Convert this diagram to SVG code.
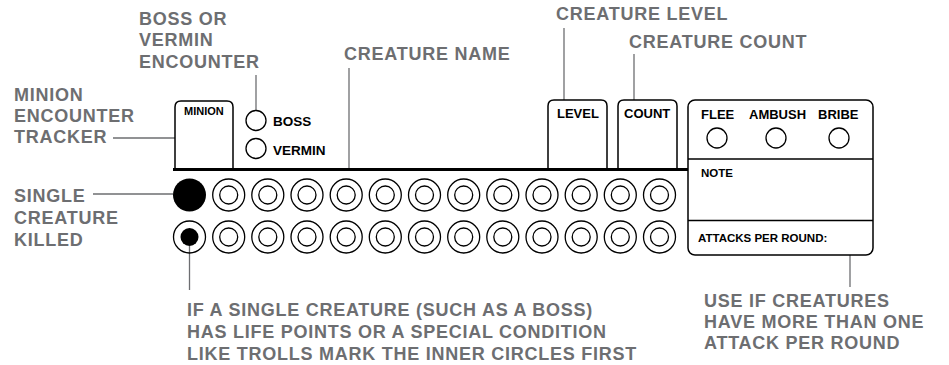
<svg xmlns="http://www.w3.org/2000/svg" width="949" height="365" viewBox="0 0 949 365">
<defs>
<style>
.lbl{font-family:"Liberation Sans",Arial,sans-serif;font-weight:bold;font-size:18px;fill:#6d6e71;letter-spacing:0.75px}
.t{font-family:"Liberation Sans",Arial,sans-serif;font-weight:bold;fill:#000}
.lead{stroke:#6d6e71;stroke-width:1.3;fill:none}
.box{stroke:#000;stroke-width:1.5;fill:#fff}
.ring{stroke:#000;stroke-width:1.3;fill:none}
</style>
<g id="cell">
<circle r="16" class="ring"/>
<circle r="9" class="ring"/>
</g>
</defs>
<rect width="949" height="365" fill="#fff"/>

<g id="connectors">
<line class="lead" x1="113" y1="138" x2="175" y2="138"/>
<line class="lead" x1="256" y1="75" x2="256" y2="110"/>
<line class="lead" x1="349" y1="68" x2="349" y2="168"/>
<line class="lead" x1="564" y1="28" x2="564" y2="100"/>
<line class="lead" x1="634" y1="54" x2="634" y2="100"/>
<line class="lead" x1="93" y1="194" x2="173" y2="194"/>
<line class="lead" x1="189.5" y1="246" x2="189.5" y2="290"/>
<line class="lead" x1="850" y1="238" x2="850" y2="287"/>
</g>

<g id="labels">
<text class="lbl" x="14" y="101">MINION</text>
<text class="lbl" x="14" y="122">ENCOUNTER</text>
<text class="lbl" x="14" y="143">TRACKER</text>
<text class="lbl" x="139" y="25">BOSS OR</text>
<text class="lbl" x="139" y="46">VERMIN</text>
<text class="lbl" x="139" y="68">ENCOUNTER</text>
<text class="lbl" x="344" y="60">CREATURE NAME</text>
<text class="lbl" x="556" y="20">CREATURE LEVEL</text>
<text class="lbl" x="629" y="48">CREATURE COUNT</text>
<text class="lbl" x="14" y="202">SINGLE</text>
<text class="lbl" x="14" y="224">CREATURE</text>
<text class="lbl" x="14" y="246">KILLED</text>
<text class="lbl" x="187" y="316">IF A SINGLE CREATURE (SUCH AS A BOSS)</text>
<text class="lbl" x="187" y="338">HAS LIFE POINTS OR A SPECIAL CONDITION</text>
<text class="lbl" x="187" y="360">LIKE TROLLS MARK THE INNER CIRCLES FIRST</text>
<text class="lbl" x="704" y="307">USE IF CREATURES</text>
<text class="lbl" x="704" y="328">HAVE MORE THAN ONE</text>
<text class="lbl" x="704" y="349">ATTACK PER ROUND</text>
</g>

<g id="minion-box">
<path class="box" d="M175,169 V107 Q175,101 181,101 H227 Q233,101 233,107 V169"/>
<text class="t" x="184" y="115" font-size="11">MINION</text>
</g>

<g id="boss-vermin">
<circle class="ring" cx="256" cy="120.5" r="10"/>
<text class="t" x="273" y="126" font-size="13.5">BOSS</text>
<circle class="ring" cx="256" cy="148.5" r="10"/>
<text class="t" x="273" y="155" font-size="13.5">VERMIN</text>
</g>

<g id="level-box">
<path class="box" d="M548,169 V106 Q548,100 554,100 H601 Q607,100 607,106 V169"/>
<text class="t" x="557" y="118" font-size="13">LEVEL</text>
</g>

<g id="count-box">
<path class="box" d="M618,169 V106 Q618,100 624,100 H671 Q677,100 677,106 V169"/>
<text class="t" x="624" y="118" font-size="13">COUNT</text>
</g>

<g id="name-line">
<line x1="173" y1="169.5" x2="689" y2="169.5" stroke="#000" stroke-width="3"/>
</g>

<g id="right-panel">
<rect class="box" x="688" y="100" width="185" height="155" rx="7"/>
<line x1="688" y1="159" x2="873" y2="159" stroke="#000" stroke-width="1.5"/>
<line x1="688" y1="220.5" x2="873" y2="220.5" stroke="#000" stroke-width="1.5"/>
<text class="t" x="701" y="119" font-size="13">FLEE</text>
<text class="t" x="749" y="119" font-size="13">AMBUSH</text>
<text class="t" x="818" y="119" font-size="13">BRIBE</text>
<circle class="ring" cx="717" cy="138" r="10"/>
<circle class="ring" cx="776" cy="138" r="10"/>
<circle class="ring" cx="839" cy="138" r="10"/>
<text class="t" x="701" y="177" font-size="11.5">NOTE</text>
<text class="t" x="698" y="242" font-size="11.5">ATTACKS PER ROUND:</text>
</g>

<g id="tracker-row1">
<circle cx="189.5" cy="195" r="16.5" fill="#000"/>
<use href="#cell" x="228.7" y="195"/>
<use href="#cell" x="267.8" y="195"/>
<use href="#cell" x="307" y="195"/>
<use href="#cell" x="346.2" y="195"/>
<use href="#cell" x="385.3" y="195"/>
<use href="#cell" x="424.5" y="195"/>
<use href="#cell" x="463.7" y="195"/>
<use href="#cell" x="502.8" y="195"/>
<use href="#cell" x="542" y="195"/>
<use href="#cell" x="581.2" y="195"/>
<use href="#cell" x="620.3" y="195"/>
<use href="#cell" x="659.5" y="195"/>
</g>

<g id="tracker-row2">
<circle cx="189.5" cy="237" r="16" class="ring"/>
<circle cx="189.5" cy="237" r="9" fill="#000"/>
<use href="#cell" x="228.7" y="237"/>
<use href="#cell" x="267.8" y="237"/>
<use href="#cell" x="307" y="237"/>
<use href="#cell" x="346.2" y="237"/>
<use href="#cell" x="385.3" y="237"/>
<use href="#cell" x="424.5" y="237"/>
<use href="#cell" x="463.7" y="237"/>
<use href="#cell" x="502.8" y="237"/>
<use href="#cell" x="542" y="237"/>
<use href="#cell" x="581.2" y="237"/>
<use href="#cell" x="620.3" y="237"/>
<use href="#cell" x="659.5" y="237"/>
</g>
</svg>
